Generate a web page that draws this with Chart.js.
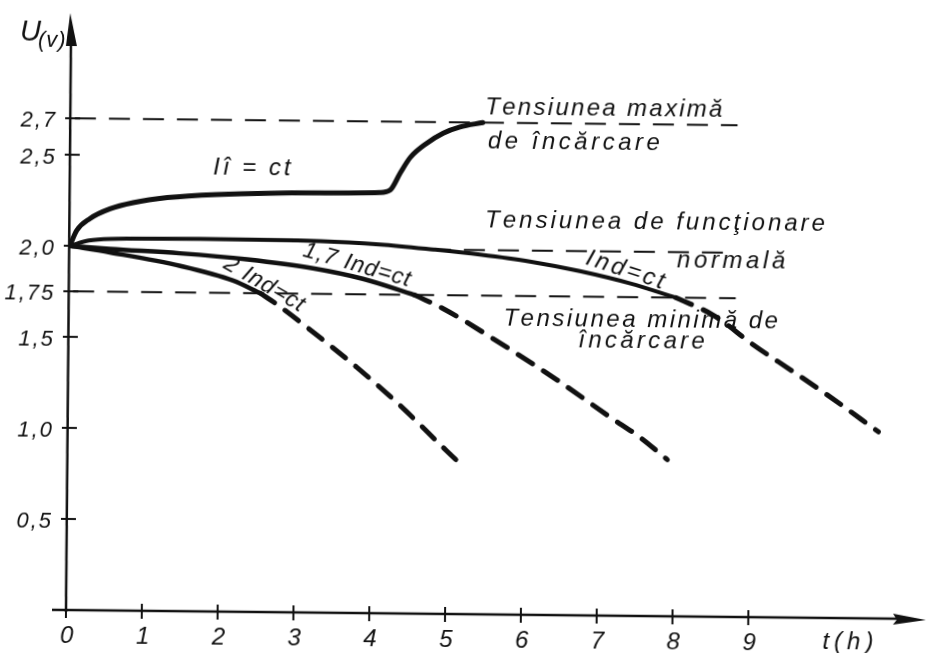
<!DOCTYPE html>
<html>
<head>
<meta charset="utf-8">
<title>U(t) acumulator</title>
<script src="https://cdn.jsdelivr.net/npm/chart.js@4.4.1/dist/chart.umd.min.js"></script>
<style>
  html, body { margin: 0; padding: 0; background: #fff; overflow: hidden; }
  /* planşa scanată e uşor rotită */
  #chart { display: block; transform: rotate(0.6deg); transform-origin: 66px 610px; }
</style>
</head>
<body>
<canvas id="chart" width="928" height="653"></canvas>
<script>
// --- date ---
const yTickValues = [0.5, 1.0, 1.5, 1.75, 2.0, 2.5, 2.7];
const yTickLabels = ["0,5", "1,0", "1,5", "1,75", "2,0", "2,5", "2,7"];
const xTickValues = [0, 1, 2, 3, 4, 5, 6, 7, 8, 9];
const xTickLabels = ["0", "1", "2", "3", "4", "5", "6", "7", "8", "9"];

// incarcare la curent constant (Iî = ct)
const chargeT = [0, 0.09, 0.26, 0.525, 0.83, 1.28, 1.93, 3.29, 4.08, 4.22, 4.35, 4.48, 4.7, 4.91, 5.13, 5.43];
const chargeU = [2.0, 2.085, 2.15, 2.205, 2.24, 2.27, 2.29, 2.305, 2.31, 2.325, 2.42, 2.505, 2.585, 2.64, 2.675, 2.7];

// descarcare Ind = ct (plin pana la 1,75 V, apoi intrerupt)
const ind1T = [0, 0.25, 0.53, 1.72, 3.3, 4.09, 4.8, 5.41, 6.07, 6.73, 7.4, 8.0];
const ind1U = [2.0, 2.03, 2.04, 2.045, 2.04, 2.025, 2.0, 1.975, 1.94, 1.89, 1.825, 1.75];
const ind1DashT = [8.0, 8.5, 9.03, 9.56, 10.01, 10.69];
const ind1DashU = [1.75, 1.655, 1.495, 1.35, 1.225, 1.025];

// descarcare 1,7 Ind = ct
const ind17T = [0, 0.53, 1.45, 2.34, 3.21, 3.87, 4.55];
const ind17U = [2.0, 1.985, 1.965, 1.935, 1.89, 1.835, 1.75];
const ind17DashT = [4.55, 4.94, 5.69, 6.45, 7.15, 7.55, 7.91];
const ind17DashU = [1.75, 1.675, 1.49, 1.29, 1.09, 0.98, 0.86];

// descarcare 2 Ind = ct
const ind2T = [0, 0.53, 1.46, 2.16, 2.52];
const ind2U = [2.0, 1.966, 1.896, 1.818, 1.75];
const ind2DashT = [2.52, 2.74, 3.22, 3.8, 4.37, 5.0, 5.18];
const ind2DashU = [1.75, 1.69, 1.54, 1.35, 1.145, 0.895, 0.825];

// niveluri de tensiune (maxima, functionare normala, minima)
const levelU = [2.7, 2.0, 1.75];
const levelFrom = [0.05, 4.75, 0.05];
const levelTo = [8.79, 8.75, 8.79];

// --- stil ---
const INK = "#111";
const FONT = '"Liberation Sans", Arial, sans-serif';

const pts = (t, u) => t.map((x, i) => ({ x, y: u[i] }));

function curve(t, u, width, dashed) {
  return {
    data: pts(t, u),
    showLine: true,
    borderColor: INK,
    borderWidth: width,
    borderDash: dashed ? [17, 13] : [],
    borderCapStyle: "round",
    borderJoinStyle: "round",
    pointRadius: 0,
    cubicInterpolationMode: "monotone",
  };
}

function level(i) {
  return {
    data: pts([levelFrom[i], levelTo[i]], [levelU[i], levelU[i]]),
    showLine: true,
    borderColor: INK,
    borderWidth: 2,
    borderDash: [21, 13],
    pointRadius: 0,
  };
}

// scrie text italic cu spatiere intre litere, optional rotit
function label(c, text, x, y, size, gap, angle, align, baseline) {
  c.save();
  c.font = "italic " + size + "px " + FONT;
  c.fillStyle = INK;
  c.textAlign = "left";
  c.textBaseline = baseline || "alphabetic";
  c.translate(x, y);
  c.rotate(((angle || 0) * Math.PI) / 180);
  let w = 0;
  for (const ch of text) w += c.measureText(ch).width + gap;
  w -= gap;
  let cx = align === "center" ? -w / 2 : align === "right" ? -w : 0;
  for (const ch of text) {
    c.fillText(ch, cx, 0);
    cx += c.measureText(ch).width + gap;
  }
  c.restore();
}

// adnotari pe grafic, pozitionate in unitati (t, U)
const notes = [
  { text: "Iî = ct", t: 1.88, u: 2.397, size: 24, gap: 3 },
  { text: "Tensiunea maximă", t: 5.46, u: 2.748, size: 24, gap: 2.3 },
  { text: "de încărcare", t: 5.5, u: 2.561, size: 24, gap: 3.5 },
  { text: "Tensiunea de funcţionare", t: 5.475, u: 2.127, size: 24, gap: 3 },
  { text: "normală", t: 8.01, u: 1.915, size: 24, gap: 3.6 },
  { text: "Tensiunea minimă de", t: 5.73, u: 1.585, size: 24, gap: 2.5 },
  { text: "încărcare", t: 6.72, u: 1.47, size: 24, gap: 3.3 },
  { text: "Ind=ct", t: 7.33, u: 1.899, size: 24, gap: 3, angle: 17.4, align: "center", baseline: "middle" },
  { text: "1,7 Ind=ct", t: 3.79, u: 1.91, size: 23, gap: 1, angle: 15.4, align: "center", baseline: "middle" },
  { text: "2 Ind=ct", t: 2.57, u: 1.8, size: 23, gap: 1, angle: 29.4, align: "center", baseline: "middle" },
];

const axesPlugin = {
  id: "axesPlugin",
  beforeDatasetsDraw(chart) {
    const c = chart.ctx;
    const xs = chart.scales.x;
    const ys = chart.scales.y;
    const x0 = xs.getPixelForValue(0);
    const y0 = ys.getPixelForValue(0);
    c.save();
    c.strokeStyle = INK;
    c.fillStyle = INK;
    c.lineWidth = 2.5;

    // axa U
    c.beginPath();
    c.moveTo(x0, y0 + 2);
    c.lineTo(x0 - 1, 40);
    c.stroke();
    c.beginPath();
    c.moveTo(x0 - 2, 13);
    c.lineTo(x0 + 5, 46);
    c.lineTo(x0 - 6, 46);
    c.closePath();
    c.fill();

    // axa t
    c.beginPath();
    c.moveTo(x0 - 14, y0);
    c.lineTo(900, y0);
    c.stroke();
    c.beginPath();
    c.moveTo(926, y0 + 1);
    c.lineTo(893, y0 - 5);
    c.lineTo(897, y0 + 1);
    c.lineTo(893, y0 + 6);
    c.closePath();
    c.fill();

    // gradatii
    c.lineWidth = 2;
    yTickValues.forEach((v) => {
      const py = ys.getPixelForValue(v);
      c.beginPath();
      c.moveTo(x0 - 6, py);
      c.lineTo(x0 + 9, py);
      c.stroke();
    });
    xTickValues.forEach((v) => {
      const px = xs.getPixelForValue(v);
      c.beginPath();
      c.moveTo(px, y0 - 7);
      c.lineTo(px, y0 + 8);
      c.stroke();
    });
    c.restore();
  },
  afterDatasetsDraw(chart) {
    const c = chart.ctx;
    const xs = chart.scales.x;
    const ys = chart.scales.y;
    const x0 = xs.getPixelForValue(0);
    const y0 = ys.getPixelForValue(0);

    yTickValues.forEach((v, i) => {
      label(c, yTickLabels[i], x0 - 16, ys.getPixelForValue(v) + 3, 22, 2, 0, "right", "middle");
    });
    xTickValues.forEach((v, i) => {
      label(c, xTickLabels[i], xs.getPixelForValue(v) + 1, y0 + 33, 24, 0, 0, "center");
    });

    // titluri axe
    label(c, "U", x0 - 52, 41, 29, 0);
    label(c, "(v)", x0 - 34, 47, 22, 1);
    label(c, "t(h)", xs.getPixelForValue(9.98), y0 + 31, 24, 5);

    notes.forEach((n) => {
      label(c, n.text, xs.getPixelForValue(n.t), ys.getPixelForValue(n.u),
        n.size, n.gap, n.angle || 0, n.align || "left", n.baseline);
    });
  },
};

const datasets = [
  level(0), level(1), level(2),
  curve(chargeT, chargeU, 5, false),
  curve(ind1T, ind1U, 4, false),
  curve(ind1DashT, ind1DashU, 5, true),
  curve(ind17T, ind17U, 4.5, false),
  curve(ind17DashT, ind17DashU, 5, true),
  curve(ind2T, ind2U, 4.5, false),
  curve(ind2DashT, ind2DashU, 5, true),
];

new Chart(document.getElementById("chart"), {
  type: "scatter",
  data: { datasets },
  options: {
    responsive: false,
    animation: false,
    devicePixelRatio: 1,
    layout: { padding: { left: 66, right: 3, top: 15, bottom: 43 } },
    scales: {
      x: { type: "linear", min: 0, max: 11.33, display: false },
      y: { type: "linear", min: 0, max: 3.267, display: false },
    },
    plugins: {
      legend: { display: false },
      tooltip: { enabled: false },
    },
  },
  plugins: [axesPlugin],
});
</script>
</body>
</html>
